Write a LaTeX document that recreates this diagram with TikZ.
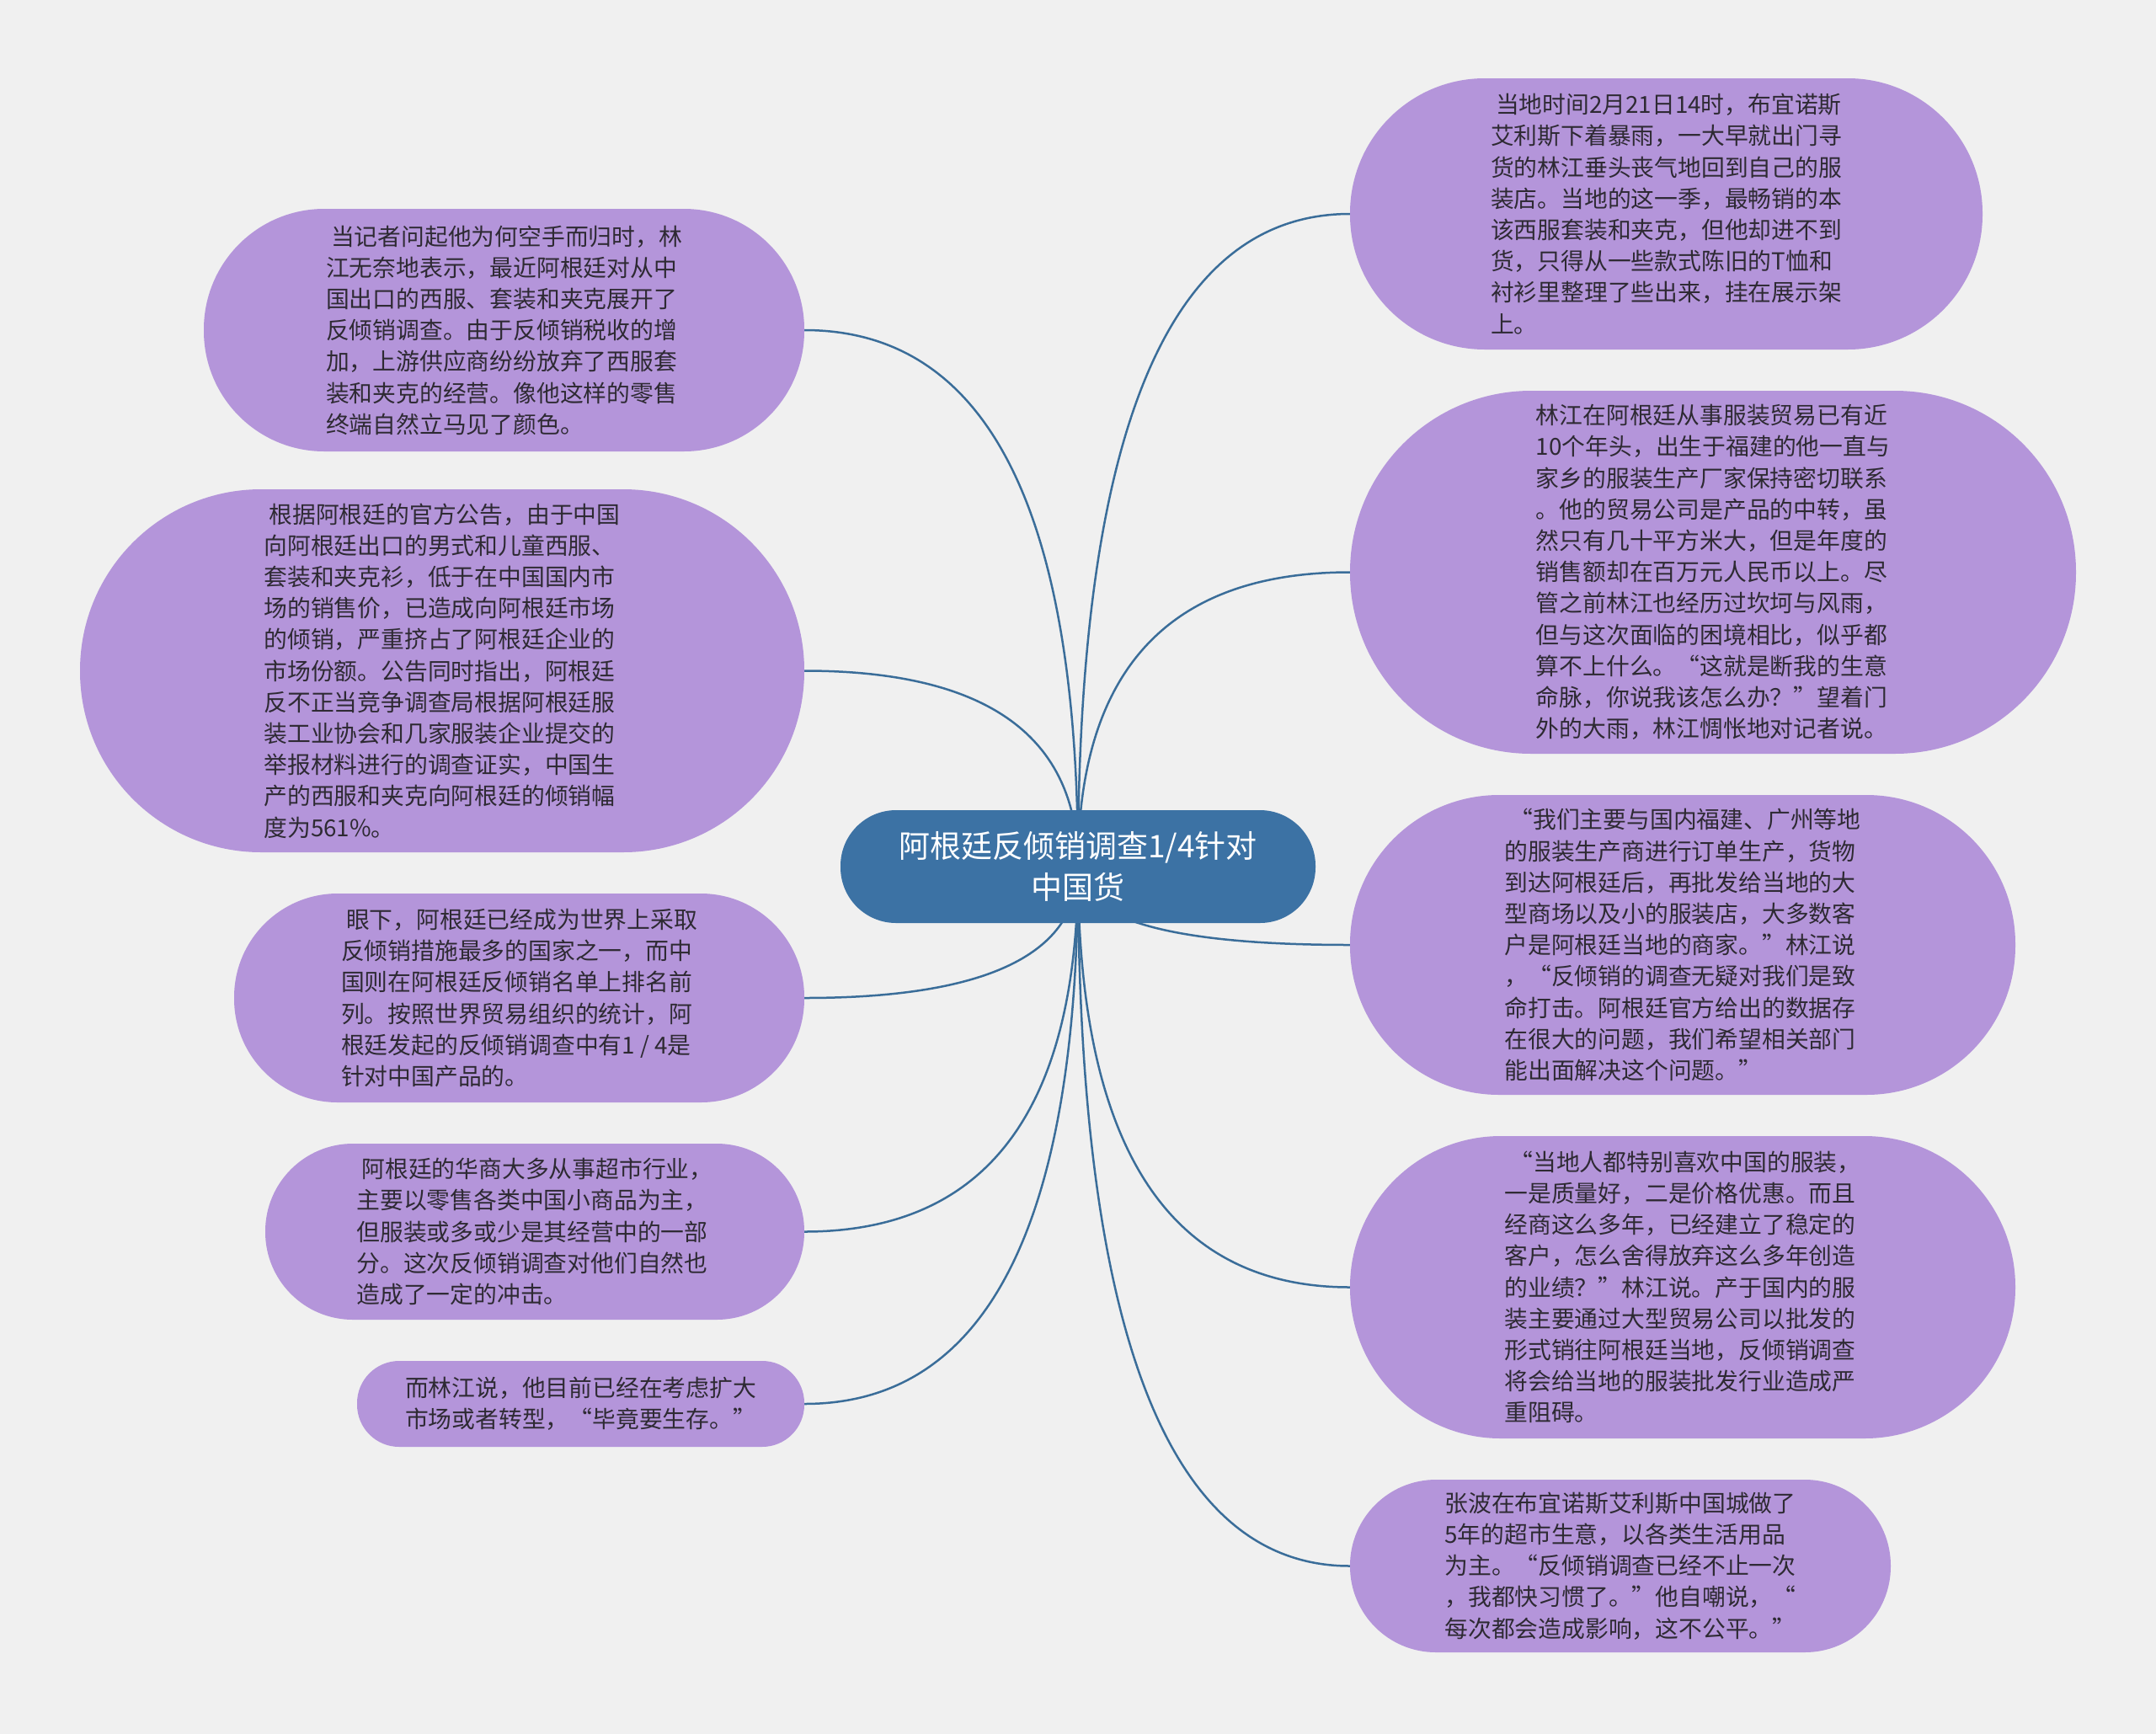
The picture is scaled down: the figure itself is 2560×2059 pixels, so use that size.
\documentclass[tikz,border=0pt]{standalone}
\usepackage{fontspec}
\newfontfamily\cjk{Noto Sans CJK SC}
\usetikzlibrary{calc}
\pgfdeclarelayer{bglayer}
\pgfdeclarelayer{edgelayer}
\pgfsetlayers{bglayer,edgelayer,main}
\definecolor{bgc}{HTML}{F0F0F0}
\definecolor{leafc}{HTML}{B495DA}
\definecolor{rootc}{HTML}{3C72A4}
\definecolor{edgec}{HTML}{3A6D99}
\definecolor{txtc}{HTML}{2E2A33}
\tikzset{
  leaf/.style={fill=leafc, draw=none, align=left, inner sep=0pt, text=txtc,
    font=\cjk\fontsize{27.8pt}{37.2pt}\selectfont},
  rootnode/.style={fill=rootc, draw=none, align=center, inner sep=0pt, text=white,
    font=\cjk\fontsize{37pt}{49pt}\selectfont},
  edge/.style={draw=edgec, line width=2.5pt},
}
\newcommand\leafnode[7]{%
  \node[leaf, minimum width=#4pt, minimum height=#5pt, rounded corners=#6pt] (#1) at (#2,#3) {#7};}
\newcommand\mmedge[1]{%
  \coordinate (kk) at (c.center |- #1);
  \draw[edge] (c.center) .. controls ($(c.center)!0.6667!(kk)$) and ($(#1)!0.6667!(kk)$) .. (#1);}
\begin{document}
\begin{tikzpicture}[x=1pt,y=-1pt]
\useasboundingbox (0,0) rectangle (2560,2059);
\begin{pgfonlayer}{bglayer}
  \fill[bgc] (0,0) rectangle (2560,2059);
\end{pgfonlayer}

\node[rootnode, minimum width=564pt, minimum height=134pt, rounded corners=66pt] (c) at (1280,1029)
  {阿根廷反倾销调查1/4针对\\中国货};

\leafnode{l1}{598.5}{392}{713}{288}{143}{\hspace*{6pt}当记者问起他为何空手而归时，林\\
江无奈地表示，最近阿根廷对从中\\
国出口的西服、套装和夹克展开了\\
反倾销调查。由于反倾销税收的增\\
加，上游供应商纷纷放弃了西服套\\
装和夹克的经营。像他这样的零售\\
终端自然立马见了颜色。}

\leafnode{l2}{525}{796.5}{860}{431}{215}{\hspace*{6pt}根据阿根廷的官方公告，由于中国\\
向阿根廷出口的男式和儿童西服、\\
套装和夹克衫，低于在中国国内市\\
场的销售价，已造成向阿根廷市场\\
的倾销，严重挤占了阿根廷企业的\\
市场份额。公告同时指出，阿根廷\\
反不正当竞争调查局根据阿根廷服\\
装工业协会和几家服装企业提交的\\
举报材料进行的调查证实，中国生\\
产的西服和夹克向阿根廷的倾销幅\\
度为561\%。}

\leafnode{l3}{616.5}{1185}{677}{248}{123}{\hspace*{6pt}眼下，阿根廷已经成为世界上采取\\
反倾销措施最多的国家之一，而中\\
国则在阿根廷反倾销名单上排名前\\
列。按照世界贸易组织的统计，阿\\
根廷发起的反倾销调查中有1 / 4是\\
针对中国产品的。}

\leafnode{l4}{635}{1462.5}{640}{209}{104}{\hspace*{6pt}阿根廷的华商大多从事超市行业，\\
主要以零售各类中国小商品为主，\\
但服装或多或少是其经营中的一部\\
分。这次反倾销调查对他们自然也\\
造成了一定的冲击。}

\leafnode{l5}{689.5}{1667}{531}{102}{50}{而林江说，他目前已经在考虑扩大\\
市场或者转型，“毕竟要生存。”}

\leafnode{r1}{1978.5}{254}{751}{322}{160}{\hspace*{6pt}当地时间2月21日14时，布宜诺斯\\
艾利斯下着暴雨，一大早就出门寻\\
货的林江垂头丧气地回到自己的服\\
装店。当地的这一季，最畅销的本\\
该西服套装和夹克，但他却进不到\\
货，只得从一些款式陈旧的T恤和\\
衬衫里整理了些出来，挂在展示架\\
上。}

\leafnode{r2}{2034}{679.5}{862}{431}{215}{林江在阿根廷从事服装贸易已有近\\
10个年头，出生于福建的他一直与\\
家乡的服装生产厂家保持密切联系\\
。他的贸易公司是产品的中转，虽\\
然只有几十平方米大，但是年度的\\
销售额却在百万元人民币以上。尽\\
管之前林江也经历过坎坷与风雨，\\
但与这次面临的困境相比，似乎都\\
算不上什么。“这就是断我的生意\\
命脉，你说我该怎么办？”望着门\\
外的大雨，林江惆怅地对记者说。}

\leafnode{r3}{1998}{1122}{790}{356}{177}{\hspace*{6pt}“我们主要与国内福建、广州等地\\
的服装生产商进行订单生产，货物\\
到达阿根廷后，再批发给当地的大\\
型商场以及小的服装店，大多数客\\
户是阿根廷当地的商家。”林江说\\
，“反倾销的调查无疑对我们是致\\
命打击。阿根廷官方给出的数据存\\
在很大的问题，我们希望相关部门\\
能出面解决这个问题。”}

\leafnode{r4}{1998}{1528.5}{790}{359}{179}{\hspace*{6pt}“当地人都特别喜欢中国的服装，\\
一是质量好，二是价格优惠。而且\\
经商这么多年，已经建立了稳定的\\
客户，怎么舍得放弃这么多年创造\\
的业绩？”林江说。产于国内的服\\
装主要通过大型贸易公司以批发的\\
形式销往阿根廷当地，反倾销调查\\
将会给当地的服装批发行业造成严\\
重阻碍。}

\leafnode{r5}{1924}{1859.5}{642}{205}{102}{张波在布宜诺斯艾利斯中国城做了\\
5年的超市生意，以各类生活用品\\
为主。“反倾销调查已经不止一次\\
，我都快习惯了。”他自嘲说，“\\
每次都会造成影响，这不公平。”}

\begin{pgfonlayer}{edgelayer}
  \mmedge{l1.east}
  \mmedge{l2.east}
  \mmedge{l3.east}
  \mmedge{l4.east}
  \mmedge{l5.east}
  \mmedge{r1.west}
  \mmedge{r2.west}
  \mmedge{r3.west}
  \mmedge{r4.west}
  \mmedge{r5.west}
\end{pgfonlayer}
\end{tikzpicture}
\end{document}
